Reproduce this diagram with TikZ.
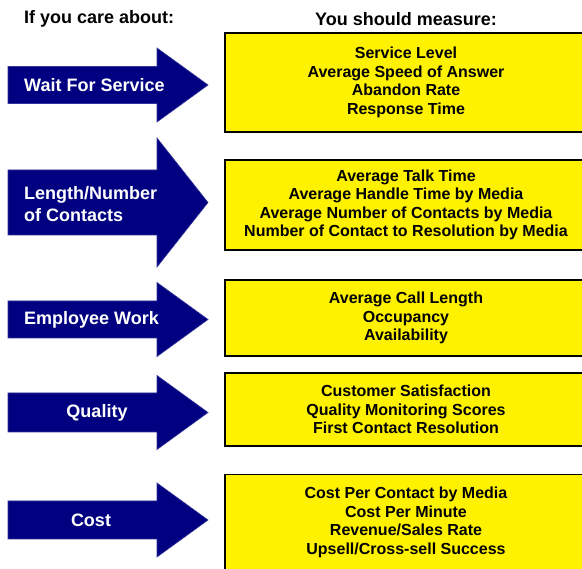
\documentclass[tikz,border=0pt]{standalone}
\usepackage{fontspec}
\setmainfont{Liberation Sans}
\usepackage{xcolor}
\usepackage{tikz}
\definecolor{navy}{RGB}{0,0,128}

\begin{document}
\begin{tikzpicture}[
  x=1pt, y=-1pt,
  head/.style={inner sep=0pt, font=\bfseries\fontsize{18}{21}\selectfont},
  bigarrow/.style={fill=navy, draw=navy!80!white, line width=0.6pt},
  care/.style={inner sep=0pt, text=white, align=left, font=\bfseries\fontsize{18}{22}\selectfont},
  measure/.style={rectangle, draw=black, line width=1.4pt, fill=yellow, align=center,
    minimum width=362pt, inner sep=0pt, font=\bfseries\fontsize{16}{18.5}\selectfont}
]
\useasboundingbox (0,0) rectangle (582,569);

\node[head, anchor=west] (caretitle) at (24,19) {If you care about:};
\node[head] (measuretitle) at (406,19) {You should measure:};

% arrows: centre line / half shaft / half head
\foreach \yc/\shaft/\tip [count=\i] in {85/18.5/37, 202.5/32.5/64.5, 319.5/18.5/37, 412.5/19.5/37, 520/19/37}
  \fill[bigarrow] (8,\yc-\shaft) -- (157,\yc-\shaft) -- (157,\yc-\tip) -- (208,\yc)
    -- (157,\yc+\tip) -- (157,\yc+\shaft) -- (8,\yc+\shaft) -- cycle;

\node[care, anchor=west] (wait) at (24,85) {Wait For Service};
\node[care, anchor=west] (length) at (24,204) {Length/Number\\of Contacts};
\node[care, anchor=west] (employee) at (24,320) {Employee Work};
\node[care] (quality) at (97,413) {Quality};
\node[care] (cost) at (91,520) {Cost};

\begin{scope}
\clip (0,0) rectangle (582,569);
\node[measure, minimum height=99pt] (waitm) at (406,82.5)
  {Service Level\\Average Speed of Answer\\Abandon Rate\\Response Time};
\node[measure, minimum height=90pt] (lengthm) at (406,205)
  {Average Talk Time\\Average Handle Time by Media\\Average Number of Contacts by Media\\Number of Contact to Resolution by Media};
\node[measure, minimum height=76pt] (employeem) at (406,318)
  {Average Call Length\\Occupancy\\Availability};
\node[measure, minimum height=73pt] (qualitym) at (406,409.5)
  {Customer Satisfaction\\Quality Monitoring Scores\\First Contact Resolution};
\node[measure, minimum height=96pt] (costm) at (406,522.5)
  {Cost Per Contact by Media\\Cost Per Minute\\Revenue/Sales Rate\\Upsell/Cross-sell Success};
\end{scope}
\end{tikzpicture}
\end{document}
